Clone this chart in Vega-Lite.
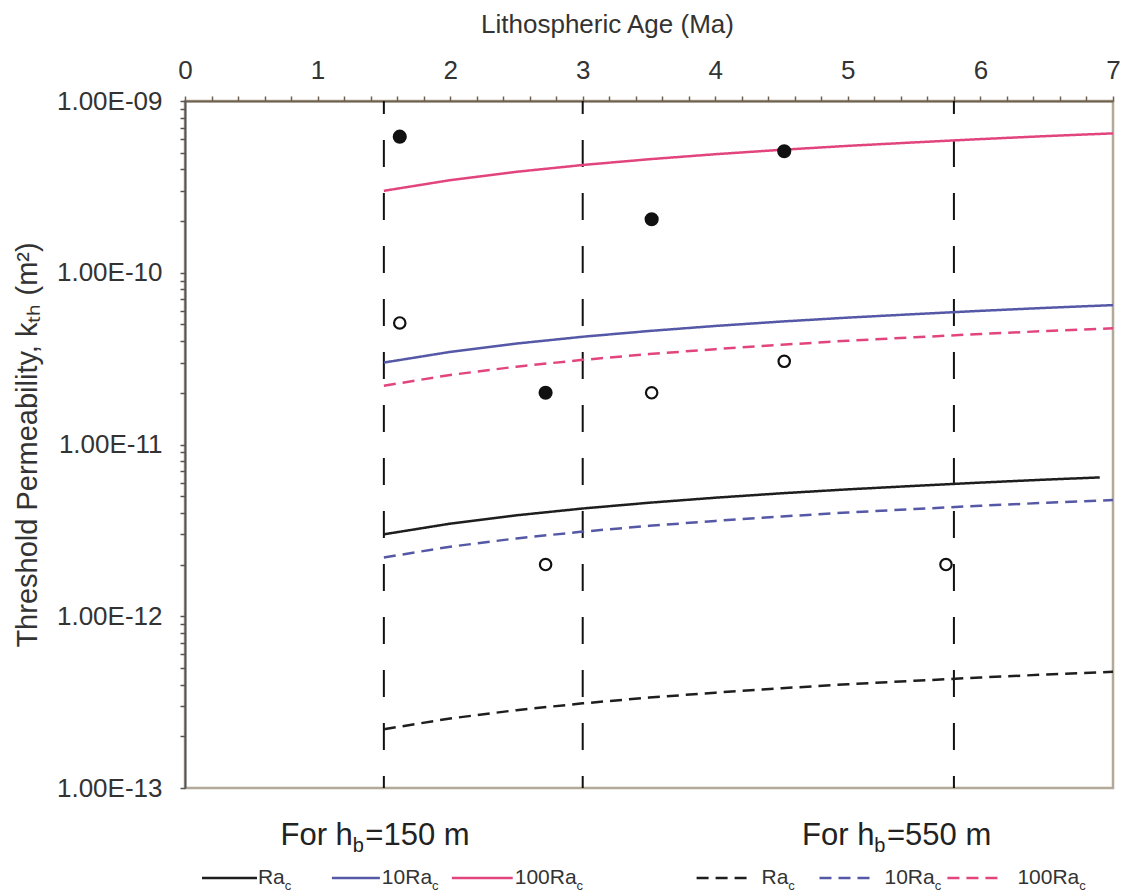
{
  "$schema": "https://vega.github.io/schema/vega-lite/v6.json",
  "width": 928,
  "height": 687,
  "autosize": {"type": "none"},
  "padding": {"left": 185, "top": 101, "right": 15, "bottom": 104},
  "background": "white",
  "config": {"view": {"stroke": "#b3a998", "strokeWidth": 2.5}, "font": "Liberation Sans"},
  "datasets": {
    "curves": [
      {"ra": "100Ra", "h": "150 m", "age": 1.5, "k": 3.00e-10},
      {"ra": "100Ra", "h": "150 m", "age": 2.0, "k": 3.46e-10},
      {"ra": "100Ra", "h": "150 m", "age": 2.5, "k": 3.87e-10},
      {"ra": "100Ra", "h": "150 m", "age": 3.0, "k": 4.24e-10},
      {"ra": "100Ra", "h": "150 m", "age": 3.5, "k": 4.58e-10},
      {"ra": "100Ra", "h": "150 m", "age": 4.0, "k": 4.90e-10},
      {"ra": "100Ra", "h": "150 m", "age": 4.5, "k": 5.20e-10},
      {"ra": "100Ra", "h": "150 m", "age": 5.0, "k": 5.48e-10},
      {"ra": "100Ra", "h": "150 m", "age": 5.5, "k": 5.74e-10},
      {"ra": "100Ra", "h": "150 m", "age": 6.0, "k": 6.00e-10},
      {"ra": "100Ra", "h": "150 m", "age": 6.5, "k": 6.25e-10},
      {"ra": "100Ra", "h": "150 m", "age": 7.0, "k": 6.48e-10},
      {"ra": "10Ra", "h": "150 m", "age": 1.5, "k": 3.00e-11},
      {"ra": "10Ra", "h": "150 m", "age": 2.0, "k": 3.46e-11},
      {"ra": "10Ra", "h": "150 m", "age": 2.5, "k": 3.87e-11},
      {"ra": "10Ra", "h": "150 m", "age": 3.0, "k": 4.24e-11},
      {"ra": "10Ra", "h": "150 m", "age": 3.5, "k": 4.58e-11},
      {"ra": "10Ra", "h": "150 m", "age": 4.0, "k": 4.90e-11},
      {"ra": "10Ra", "h": "150 m", "age": 4.5, "k": 5.20e-11},
      {"ra": "10Ra", "h": "150 m", "age": 5.0, "k": 5.48e-11},
      {"ra": "10Ra", "h": "150 m", "age": 5.5, "k": 5.74e-11},
      {"ra": "10Ra", "h": "150 m", "age": 6.0, "k": 6.00e-11},
      {"ra": "10Ra", "h": "150 m", "age": 6.5, "k": 6.25e-11},
      {"ra": "10Ra", "h": "150 m", "age": 7.0, "k": 6.48e-11},
      {"ra": "Ra", "h": "150 m", "age": 1.5, "k": 3.00e-12},
      {"ra": "Ra", "h": "150 m", "age": 2.0, "k": 3.46e-12},
      {"ra": "Ra", "h": "150 m", "age": 2.5, "k": 3.87e-12},
      {"ra": "Ra", "h": "150 m", "age": 3.0, "k": 4.24e-12},
      {"ra": "Ra", "h": "150 m", "age": 3.5, "k": 4.58e-12},
      {"ra": "Ra", "h": "150 m", "age": 4.0, "k": 4.90e-12},
      {"ra": "Ra", "h": "150 m", "age": 4.5, "k": 5.20e-12},
      {"ra": "Ra", "h": "150 m", "age": 5.0, "k": 5.48e-12},
      {"ra": "Ra", "h": "150 m", "age": 5.5, "k": 5.74e-12},
      {"ra": "Ra", "h": "150 m", "age": 6.0, "k": 6.00e-12},
      {"ra": "Ra", "h": "150 m", "age": 6.5, "k": 6.25e-12},
      {"ra": "Ra", "h": "150 m", "age": 6.9, "k": 6.43e-12},
      {"ra": "100Ra", "h": "550 m", "age": 1.5, "k": 2.20e-11},
      {"ra": "100Ra", "h": "550 m", "age": 2.0, "k": 2.54e-11},
      {"ra": "100Ra", "h": "550 m", "age": 2.5, "k": 2.84e-11},
      {"ra": "100Ra", "h": "550 m", "age": 3.0, "k": 3.11e-11},
      {"ra": "100Ra", "h": "550 m", "age": 3.5, "k": 3.36e-11},
      {"ra": "100Ra", "h": "550 m", "age": 4.0, "k": 3.59e-11},
      {"ra": "100Ra", "h": "550 m", "age": 4.5, "k": 3.81e-11},
      {"ra": "100Ra", "h": "550 m", "age": 5.0, "k": 4.02e-11},
      {"ra": "100Ra", "h": "550 m", "age": 5.5, "k": 4.21e-11},
      {"ra": "100Ra", "h": "550 m", "age": 6.0, "k": 4.40e-11},
      {"ra": "100Ra", "h": "550 m", "age": 6.5, "k": 4.58e-11},
      {"ra": "100Ra", "h": "550 m", "age": 7.0, "k": 4.75e-11},
      {"ra": "10Ra", "h": "550 m", "age": 1.5, "k": 2.20e-12},
      {"ra": "10Ra", "h": "550 m", "age": 2.0, "k": 2.54e-12},
      {"ra": "10Ra", "h": "550 m", "age": 2.5, "k": 2.84e-12},
      {"ra": "10Ra", "h": "550 m", "age": 3.0, "k": 3.11e-12},
      {"ra": "10Ra", "h": "550 m", "age": 3.5, "k": 3.36e-12},
      {"ra": "10Ra", "h": "550 m", "age": 4.0, "k": 3.59e-12},
      {"ra": "10Ra", "h": "550 m", "age": 4.5, "k": 3.81e-12},
      {"ra": "10Ra", "h": "550 m", "age": 5.0, "k": 4.02e-12},
      {"ra": "10Ra", "h": "550 m", "age": 5.5, "k": 4.21e-12},
      {"ra": "10Ra", "h": "550 m", "age": 6.0, "k": 4.40e-12},
      {"ra": "10Ra", "h": "550 m", "age": 6.5, "k": 4.58e-12},
      {"ra": "10Ra", "h": "550 m", "age": 7.0, "k": 4.75e-12},
      {"ra": "Ra", "h": "550 m", "age": 1.5, "k": 2.20e-13},
      {"ra": "Ra", "h": "550 m", "age": 2.0, "k": 2.54e-13},
      {"ra": "Ra", "h": "550 m", "age": 2.5, "k": 2.84e-13},
      {"ra": "Ra", "h": "550 m", "age": 3.0, "k": 3.11e-13},
      {"ra": "Ra", "h": "550 m", "age": 3.5, "k": 3.36e-13},
      {"ra": "Ra", "h": "550 m", "age": 4.0, "k": 3.59e-13},
      {"ra": "Ra", "h": "550 m", "age": 4.5, "k": 3.81e-13},
      {"ra": "Ra", "h": "550 m", "age": 5.0, "k": 4.02e-13},
      {"ra": "Ra", "h": "550 m", "age": 5.5, "k": 4.21e-13},
      {"ra": "Ra", "h": "550 m", "age": 6.0, "k": 4.40e-13},
      {"ra": "Ra", "h": "550 m", "age": 6.5, "k": 4.58e-13},
      {"ra": "Ra", "h": "550 m", "age": 7.0, "k": 4.75e-13}
    ],
    "vlines": [
      {"age": 1.5, "k": 1e-9, "k2": 1e-13},
      {"age": 3.0, "k": 1e-9, "k2": 1e-13},
      {"age": 5.8, "k": 1e-9, "k2": 1e-13}
    ],
    "obs": [
      {"kind": "filled", "age": 1.62, "k": 6.2e-10},
      {"kind": "filled", "age": 2.72, "k": 2.0e-11},
      {"kind": "filled", "age": 3.52, "k": 2.05e-10},
      {"kind": "filled", "age": 4.52, "k": 5.1e-10},
      {"kind": "open", "age": 1.62, "k": 5.1e-11},
      {"kind": "open", "age": 3.52, "k": 2.0e-11},
      {"kind": "open", "age": 4.52, "k": 3.05e-11},
      {"kind": "open", "age": 2.72, "k": 2.0e-12},
      {"kind": "open", "age": 5.74, "k": 2.0e-12}
    ],
    "legendlines": [
      {"ra": "Ra", "h": "150 m", "age": 0.128, "age2": 0.543, "k": 2.99e-14},
      {"ra": "10Ra", "h": "150 m", "age": 1.108, "age2": 1.47, "k": 2.99e-14},
      {"ra": "100Ra", "h": "150 m", "age": 2.013, "age2": 2.472, "k": 2.99e-14},
      {"ra": "Ra", "h": "550 m", "age": 3.859, "age2": 4.236, "k": 2.99e-14},
      {"ra": "10Ra", "h": "550 m", "age": 4.786, "age2": 5.216, "k": 2.99e-14},
      {"ra": "100Ra", "h": "550 m", "age": 5.751, "age2": 6.158, "k": 2.99e-14}
    ],
    "labels": [
      {"kind": "note", "text": "For h", "age": 0.72, "k": 4.66e-14},
      {"kind": "note_sub", "text": "b", "age": 1.265, "k": 4.24e-14},
      {"kind": "note", "text": "=150 m", "age": 1.36, "k": 4.66e-14},
      {"kind": "note", "text": "For h", "age": 4.655, "k": 4.66e-14},
      {"kind": "note_sub", "text": "b", "age": 5.2, "k": 4.24e-14},
      {"kind": "note", "text": "=550 m", "age": 5.295, "k": 4.66e-14},
      {"kind": "leg", "text": "Ra", "age": 0.55, "k": 2.75e-14},
      {"kind": "leg_sub", "text": "c", "age": 0.752, "k": 2.55e-14},
      {"kind": "leg", "text": "10Ra", "age": 1.485, "k": 2.75e-14},
      {"kind": "leg_sub", "text": "c", "age": 1.863, "k": 2.55e-14},
      {"kind": "leg", "text": "100Ra", "age": 2.487, "k": 2.75e-14},
      {"kind": "leg_sub", "text": "c", "age": 2.954, "k": 2.55e-14},
      {"kind": "leg", "text": "Ra", "age": 4.349, "k": 2.75e-14},
      {"kind": "leg_sub", "text": "c", "age": 4.551, "k": 2.55e-14},
      {"kind": "leg", "text": "10Ra", "age": 5.276, "k": 2.75e-14},
      {"kind": "leg_sub", "text": "c", "age": 5.655, "k": 2.55e-14},
      {"kind": "leg", "text": "100Ra", "age": 6.279, "k": 2.75e-14},
      {"kind": "leg_sub", "text": "c", "age": 6.745, "k": 2.55e-14}
    ]
  },
  "encoding": {
    "x": {
      "field": "age", "type": "quantitative",
      "scale": {"domain": [0, 7], "nice": false, "zero": false},
      "axis": {
        "orient": "top",
        "values": [0,0.2,0.4,0.6,0.8,1,1.2,1.4,1.6,1.8,2,2.2,2.4,2.6,2.8,3,3.2,3.4,3.6,3.8,4,4.2,4.4,4.6,4.8,5,5.2,5.4,5.6,5.8,6,6.2,6.4,6.6,6.8,7],
        "labelExpr": "abs(datum.value - round(datum.value)) < 0.01 ? '' + round(datum.value) : ''",
        "title": "Lithospheric Age (Ma)",
        "titleFont": "Liberation Sans", "titleFontSize": 26, "titleFontWeight": "normal", "titleColor": "#333333",
        "titleX": 422, "titleY": -69, "titleBaseline": "alphabetic", "titleAlign": "center",
        "labelFont": "Liberation Sans", "labelFontSize": 26, "labelColor": "#333333", "labelBaseline": "alphabetic",
        "labelPadding": 18, "tickSize": 5, "tickColor": "#6e604f", "tickWidth": 1.5,
        "domainColor": "#6e604f", "domainWidth": 2, "grid": false, "labelFlush": false, "labelOverlap": false
      }
    },
    "y": {
      "field": "k", "type": "quantitative",
      "scale": {"type": "log", "domain": [1e-13, 1e-9], "nice": false},
      "axis": {
        "orient": "left",
        "values": [1e-13,2e-13,3e-13,4e-13,5e-13,6e-13,7e-13,8e-13,9e-13,1e-12,2e-12,3e-12,4e-12,5e-12,6e-12,7e-12,8e-12,9e-12,1e-11,2e-11,3e-11,4e-11,5e-11,6e-11,7e-11,8e-11,9e-11,1e-10,2e-10,3e-10,4e-10,5e-10,6e-10,7e-10,8e-10,9e-10,1e-9],
        "labelExpr": "abs(log(datum.value)/LN10 - round(log(datum.value)/LN10)) < 0.01 ? '1.00E-' + (round(-log(datum.value)/LN10) < 10 ? '0' : '') + round(-log(datum.value)/LN10) : ''",
        "title": "Threshold Permeability, kₜₕ (m²)",
        "titleFont": "Liberation Sans", "titleFontSize": 29, "titleFontWeight": "normal", "titleColor": "#333333",
        "titleX": -158, "titleY": 343.5, "titleAngle": 270, "titleAlign": "center", "titleBaseline": "middle",
        "labelFont": "Liberation Sans", "labelFontSize": 26, "labelColor": "#333333", "labelAlign": "right", "labelBaseline": "middle",
        "labelPadding": 18, "tickSize": 5, "tickColor": "#555555", "tickWidth": 1.5,
        "domainColor": "#555555", "domainWidth": 2, "grid": false, "labelFlush": false, "labelOverlap": false
      }
    }
  },
  "layer": [
    {
      "data": {"name": "vlines"},
      "mark": {"type": "rule", "color": "#111111", "strokeWidth": 2, "strokeDash": [27, 26], "strokeDashOffset": 14},
      "encoding": {"y2": {"field": "k2"}}
    },
    {
      "data": {"name": "curves"},
      "mark": {"type": "line", "strokeWidth": 2.5},
      "encoding": {
        "color": {"field": "ra", "type": "nominal", "scale": {"domain": ["Ra", "10Ra", "100Ra"], "range": ["#1e1e1e", "#5558a6", "#e2457d"]}, "legend": null},
        "strokeDash": {"field": "h", "type": "nominal", "scale": {"domain": ["150 m", "550 m"], "range": [[1, 0], [12, 7]]}, "legend": null}
      }
    },
    {
      "data": {"name": "obs"},
      "transform": [{"filter": "datum.kind === 'filled'"}],
      "mark": {"type": "point", "shape": "circle", "filled": true, "size": 200, "color": "#111111", "opacity": 1}
    },
    {
      "data": {"name": "obs"},
      "transform": [{"filter": "datum.kind === 'open'"}],
      "mark": {"type": "point", "shape": "circle", "filled": false, "size": 130, "strokeWidth": 2.2, "color": "#111111", "opacity": 1}
    },
    {
      "data": {"name": "legendlines"},
      "mark": {"type": "rule", "strokeWidth": 2.5},
      "encoding": {
        "x2": {"field": "age2"},
        "color": {"field": "ra", "type": "nominal", "scale": {"domain": ["Ra", "10Ra", "100Ra"], "range": ["#1e1e1e", "#5558a6", "#e2457d"]}, "legend": null},
        "strokeDash": {"field": "h", "type": "nominal", "scale": {"domain": ["150 m", "550 m"], "range": [[1, 0], [12, 7]]}, "legend": null}
      }
    },
    {
      "data": {"name": "labels"},
      "transform": [{"filter": "datum.kind === 'note'"}],
      "mark": {"type": "text", "font": "Liberation Sans", "fontSize": 31, "align": "left", "baseline": "alphabetic", "color": "#222222"},
      "encoding": {"text": {"field": "text"}}
    },
    {
      "data": {"name": "labels"},
      "transform": [{"filter": "datum.kind === 'note_sub'"}],
      "mark": {"type": "text", "font": "Liberation Sans", "fontSize": 20, "align": "left", "baseline": "alphabetic", "color": "#222222"},
      "encoding": {"text": {"field": "text"}}
    },
    {
      "data": {"name": "labels"},
      "transform": [{"filter": "datum.kind === 'leg'"}],
      "mark": {"type": "text", "font": "Liberation Sans", "fontSize": 21, "align": "left", "baseline": "alphabetic", "color": "#333333"},
      "encoding": {"text": {"field": "text"}}
    },
    {
      "data": {"name": "labels"},
      "transform": [{"filter": "datum.kind === 'leg_sub'"}],
      "mark": {"type": "text", "font": "Liberation Sans", "fontSize": 13, "align": "left", "baseline": "alphabetic", "color": "#333333"},
      "encoding": {"text": {"field": "text"}}
    }
  ]
}
